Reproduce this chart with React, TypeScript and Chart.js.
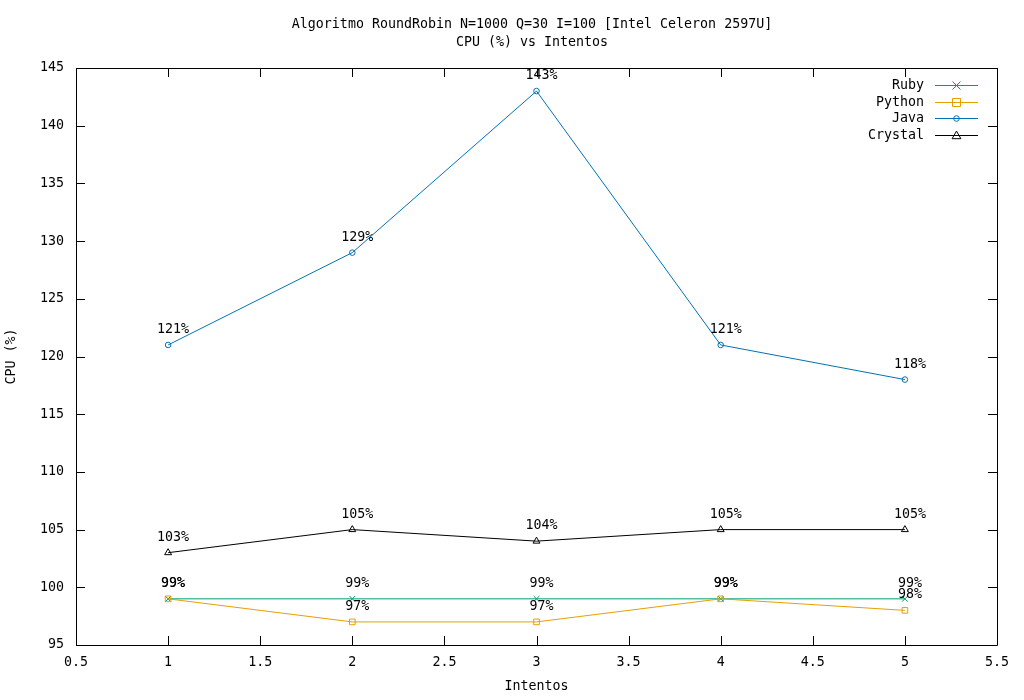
import React, { useEffect, useRef } from "react";
import { Chart, registerables } from "chart.js";

Chart.register(...registerables);

const intentos = [1, 2, 3, 4, 5];
const rubyCpu = [99, 99, 99, 99, 99];
const pythonCpu = [99, 97, 97, 99, 98];
const javaCpu = [121, 129, 143, 121, 118];
const crystalCpu = [103, 105, 104, 105, 105];

const seriesNames = ["Ruby", "Python", "Java", "Crystal"];
const seriesColors = ["#009e73", "#e69f00", "#0072b2", "#000000"];
const seriesMarkers = ["crossRot", "rect", "circle", "triangle"];
const seriesRadius = [4, 4, 2.8, 4];

const titleLines = ["Algoritmo RoundRobin N=1000 Q=30 I=100 [Intel Celeron 2597U]", "CPU (%) vs Intentos"];
const xTitle = "Intentos";
const yTitle = "CPU (%)";

const FONT = "'DejaVu Sans Mono', monospace";
const FS = 13.3;

function drawMarker(ctx: CanvasRenderingContext2D, style: string, r: number, x: number, y: number) {
  ctx.beginPath();
  if (style === "crossRot") {
    ctx.moveTo(x - r, y - r);
    ctx.lineTo(x + r, y + r);
    ctx.moveTo(x + r, y - r);
    ctx.lineTo(x - r, y + r);
  } else if (style === "rect") {
    ctx.rect(x - r, y - r, 2 * r, 2 * r);
  } else if (style === "circle") {
    ctx.arc(x, y, r, 0, Math.PI * 2);
  } else if (style === "triangle") {
    ctx.moveTo(x, y - r * 1.1);
    ctx.lineTo(x + r * 1.1, y + r * 0.8);
    ctx.lineTo(x - r * 1.1, y + r * 0.8);
    ctx.closePath();
  }
  ctx.stroke();
}

const framePlugin = {
  id: "frame",
  afterDraw(chart: any) {
    const { ctx, chartArea, scales } = chart;
    const { left, right, top, bottom } = chartArea;
    ctx.save();
    ctx.strokeStyle = "#000";
    ctx.lineWidth = 1;
    ctx.beginPath();
    ctx.rect(Math.round(left) + 0.5, Math.round(top) + 0.5, Math.round(right - left), Math.round(bottom - top));
    ctx.stroke();
    const tl = 9;
    ctx.beginPath();
    scales.x.ticks.forEach((t: any) => {
      const x = Math.round(scales.x.getPixelForValue(t.value)) + 0.5;
      ctx.moveTo(x, bottom);
      ctx.lineTo(x, bottom - tl);
      ctx.moveTo(x, top);
      ctx.lineTo(x, top + tl);
    });
    scales.y.ticks.forEach((t: any) => {
      const y = Math.round(scales.y.getPixelForValue(t.value)) + 0.5;
      ctx.moveTo(left, y);
      ctx.lineTo(left + tl, y);
      ctx.moveTo(right, y);
      ctx.lineTo(right - tl, y);
    });
    ctx.stroke();

    // title
    ctx.fillStyle = "#000";
    ctx.font = `${FS}px ${FONT}`;
    ctx.textAlign = "center";
    ctx.textBaseline = "middle";
    titleLines.forEach((line, i) => {
      ctx.fillText(line, 532, 25 + i * 18);
    });

    // data labels
    chart.data.datasets.forEach((ds: any, i: number) => {
      const meta = chart.getDatasetMeta(i);
      meta.data.forEach((pt: any, j: number) => {
        ctx.fillText(`${ds.data[j].y}%`, pt.x + 5, pt.y - 15.5);
      });
    });

    // legend
    const rowH = 16.7;
    const y0 = 85;
    const textRight = 924;
    const lx0 = 935;
    const lx1 = 978;
    ctx.textAlign = "right";
    chart.data.datasets.forEach((ds: any, i: number) => {
      const y = Math.round(y0 + i * rowH) + 0.5;
      ctx.fillStyle = "#000";
      ctx.fillText(ds.label, textRight, y);
      ctx.strokeStyle = seriesColors[i];
      ctx.lineWidth = 1;
      ctx.beginPath();
      ctx.moveTo(lx0, y);
      ctx.lineTo(lx1, y);
      ctx.stroke();
      drawMarker(ctx, seriesMarkers[i], seriesRadius[i], 956.5, y);
    });
    ctx.restore();
  },
};

export default function App() {
  const ref = useRef<HTMLCanvasElement | null>(null);
  useEffect(() => {
    if (!ref.current) return;
    const seriesData = [rubyCpu, pythonCpu, javaCpu, crystalCpu];
    const chart = new Chart(ref.current, {
      type: "line",
      data: {
        datasets: seriesData.map((vals, i) => ({
          label: seriesNames[i],
          data: intentos.map((x, j) => ({ x, y: vals[j] })),
          order: seriesData.length - i,
          borderColor: seriesColors[i],
          backgroundColor: "rgba(0,0,0,0)",
          borderWidth: 1,
          pointStyle: seriesMarkers[i] as any,
          pointRadius: seriesRadius[i],
          pointBorderWidth: 1,
          pointBorderColor: seriesColors[i],
          pointBackgroundColor: "rgba(0,0,0,0)",
          tension: 0,
          fill: false,
        })),
      },
      options: {
        animation: false,
        responsive: false,
        maintainAspectRatio: false,
        layout: { padding: { right: 27, top: 68, left: 0, bottom: 0 } },
        plugins: {
          legend: { display: false },
          tooltip: { enabled: false },
          title: { display: false },
        },
        scales: {
          x: {
            type: "linear",
            min: 0.5,
            max: 5.5,
            ticks: {
              stepSize: 0.5,
              color: "#000",
              font: { family: FONT, size: FS },
              padding: 10,
              maxRotation: 0,
              autoSkip: false,
              callback: (v: any) => String(Number(v)),
            },
            grid: { display: false, drawTicks: false },
            border: { display: false },
            title: {
              display: true,
              text: xTitle,
              color: "#000",
              font: { family: FONT, size: FS },
              padding: { top: 0, bottom: 5 },
            },
            afterFit: (s: any) => {
              s.height = 55;
            },
          },
          y: {
            type: "linear",
            min: 95,
            max: 145,
            ticks: {
              stepSize: 5,
              color: "#000",
              font: { family: FONT, size: FS },
              padding: 12,
            },
            grid: { display: false, drawTicks: false },
            border: { display: false },
            title: {
              display: true,
              text: yTitle,
              color: "#000",
              font: { family: FONT, size: FS },
              padding: { top: 4, bottom: 0 },
            },
            afterFit: (s: any) => {
              s.width = 76;
            },
          },
        },
      },
      plugins: [framePlugin],
    });
    return () => chart.destroy();
  }, []);
  return (
    <div style={{ position: "fixed", left: 0, top: 0, width: 1024, height: 700, background: "#fff" }}>
      <canvas ref={ref} width={1024} height={700} style={{ width: 1024, height: 700 }} />
    </div>
  );
}
